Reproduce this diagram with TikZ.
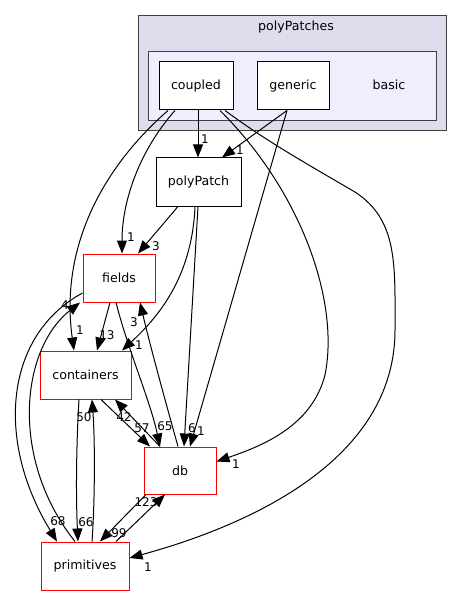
\documentclass[tikz,border=0pt]{standalone}
\usepackage{fontspec}
\setmainfont{DejaVu Sans}
\usepackage{xcolor}
\definecolor{outerfill}{HTML}{DDDDEE}
\definecolor{innerfill}{HTML}{EEEEFF}
\definecolor{clusterline}{HTML}{404040}
\usepackage{tikz}
\usetikzlibrary{
  arrows.meta,
  positioning,
  calc
}
\tikzset{
  dirbox/.style={draw, fill=white, line width=1pt,
    minimum width=72pt, minimum height=48pt,
    inner sep=0pt, align=center, font=\fontsize{12.6}{14}\selectfont},
  reddirbox/.style={dirbox, draw=red},
  clusterbox/.style={draw=clusterline, line width=1pt},
  arr/.style={-{Triangle[length=13pt, width=10pt]}, line width=1pt},
  num/.style={font=\fontsize{12}{13}\selectfont, inner sep=0pt},
}

\begin{document}
\begin{tikzpicture}[x=1pt, y=-1pt]
  \useasboundingbox (0,0) rectangle (463,596);

  % Clusters
  \draw[clusterbox, fill=outerfill] (138,16) rectangle (446,131);
  \node[font=\fontsize{12.6}{14}\selectfont, inner sep=0pt] (polyPatches) at (296,27) {polyPatches};
  \draw[clusterbox, fill=innerfill] (148,52) rectangle (436,121);
  \node[font=\fontsize{12.6}{14}\selectfont] (basic) at (389,85) {basic};

  % Directories
  \node[dirbox, minimum width=74pt] (coupled) at (196,86) {coupled};
  \node[dirbox] (generic) at (293,86) {generic};
  \node[dirbox, minimum width=85pt] (polyPatch) at (198.5,182) {polyPatch};
  \node[reddirbox] (fields) at (119,278) {fields};
  \node[reddirbox, minimum width=91pt] (containers) at (85.5,375) {containers};
  \node[reddirbox, minimum height=47pt] (db) at (180,470.5) {db};
  \node[reddirbox, minimum width=88pt] (primitives) at (85,566) {primitives};

  % From coupled and generic
  \draw[arr] ([xshift=2pt]coupled.south) -- ([xshift=-0.5pt]polyPatch.north);
  \node[num] (l1) at (205,139) {1};
  \draw[arr] ([xshift=-6pt]generic.south) -- ([xshift=23.5pt]polyPatch.north);
  \node[num] (l2) at (240,150) {1};
  \draw[arr] ([xshift=-21pt]coupled.south) .. controls (140,150) and (122,200) .. ([xshift=3pt]fields.north);
  \node[num] (l3) at (131,237) {1};
  \draw[arr] ([xshift=-28pt]coupled.south) .. controls (100,170) and (60,250) .. ([xshift=-11.5pt]containers.north);
  \node[num] (l4) at (80,330) {1};
  \draw[arr] ([xshift=-6pt]generic.south) -- ([xshift=10pt]db.north);
  \node[num] (l5) at (201,431) {1};
  \draw[arr] ([xshift=24pt]coupled.south) .. controls (300,190) and (340,300) .. (325,375)
    .. controls (312,425) and (265,445) .. ([yshift=9pt]db.east);
  \node[num] (l6) at (236,464) {1};
  \draw[arr] ([xshift=29pt]coupled.south) .. controls (265,140) and (300,160) .. (355,192)
    .. controls (398,220) and (395,265) .. (395,330)
    .. controls (395,460) and (250,525) .. ([yshift=8pt]primitives.east);
  \node[num] (l7) at (148,567) {1};

  % From polyPatch
  \draw[arr] ([xshift=-20.5pt]polyPatch.south) -- ([xshift=19pt]fields.north);
  \node[num] (l8) at (156,246) {3};
  \draw[arr] ([xshift=-3.5pt]polyPatch.south) .. controls (192,280) and (155,320) .. ([xshift=36.5pt]containers.north);
  \node[num] (l9) at (139,345) {1};
  \draw[arr] ([xshift=-0.5pt]polyPatch.south) -- ([xshift=4pt]db.north);
  \node[num] (l10) at (192,428) {6};

  % From fields
  \draw[arr] ([xshift=-9pt]fields.south) -- ([xshift=11.5pt]containers.north);
  \node[num] (l11) at (107,335) {13};
  \draw[arr] ([xshift=-3pt]fields.south) .. controls (128,350) and (150,400) .. ([xshift=-20pt]db.north);
  \node[num] (l12) at (165,426) {65};
  \draw[arr] ([yshift=-15pt]fields.west) .. controls (5,335) and (-5,440) .. ([xshift=-28pt]primitives.north);
  \node[num] (l13) at (58,521) {68};

  % From db
  \draw[arr] ([xshift=-2pt]db.north) .. controls (165,400) and (150,345) .. ([xshift=21pt]fields.south);
  \node[num] (l14) at (134,322) {3};
  \draw[arr] ([xshift=-20pt]db.north) -- ([xshift=29.5pt]containers.south);
  \node[num] (l15) at (124,417) {42};
  \draw[arr] ([xshift=-34pt]db.south) -- ([xshift=15pt]primitives.north);
  \node[num] (l16) at (119,533) {99};

  % From containers
  \draw[arr] ([xshift=15.5pt]containers.south) -- ([xshift=-30pt]db.north);
  \node[num] (l17) at (142,428) {57};
  \draw[arr] ([xshift=-6.5pt]containers.south) .. controls (76,450) and (76,500) .. ([xshift=-7pt]primitives.north);
  \node[num] (l18) at (86,522) {66};

  % From primitives
  \draw[arr] ([xshift=7pt]primitives.north) .. controls (95,500) and (95,440) .. ([xshift=6.5pt]containers.south);
  \node[num] (l19) at (84,417) {50};
  \draw[arr] ([xshift=31pt]primitives.north) -- ([xshift=-15pt]db.south);
  \node[num] (l20) at (146,502) {123};
  \draw[arr] ([xshift=-10pt]primitives.north) .. controls (10,460) and (20,350) .. ([xshift=-39pt]fields.south);
  \node[num] (l21) at (65,305) {4};
\end{tikzpicture}
\end{document}
